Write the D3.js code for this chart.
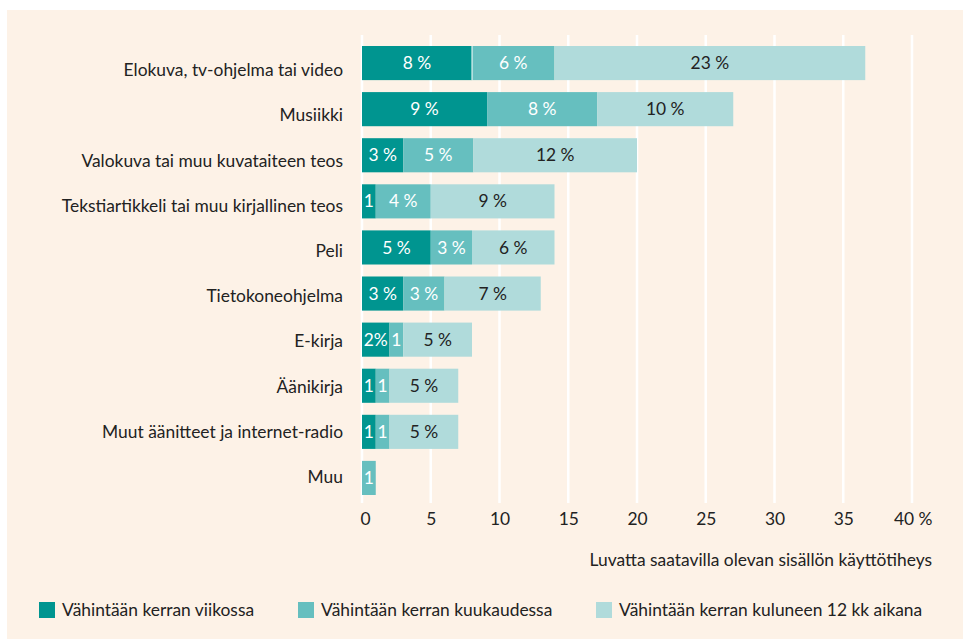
<!DOCTYPE html>
<html><head><meta charset="utf-8">
<script src="https://cdn.jsdelivr.net/npm/d3@7"></script>
<style>
html,body{margin:0;padding:0;background:#fff;}
svg{display:block;}
text{font-family:Lato,"Open Sans",sans-serif;}
</style></head>
<body>
<svg id="chart" width="963" height="639"></svg>
<script>
const categories = ["Elokuva, tv-ohjelma tai video","Musiikki","Valokuva tai muu kuvataiteen teos","Tekstiartikkeli tai muu kirjallinen teos","Peli","Tietokoneohjelma","E-kirja","Äänikirja","Muut äänitteet ja internet-radio","Muu"];
const weekly  = [8, 9.1, 3, 1, 5, 3, 2, 1, 1, 0];
const monthly = [6, 8, 5.1, 4, 3, 3, 1, 1, 1, 1];
const yearly  = [22.6, 9.9, 11.9, 9, 6, 7, 5, 5, 5, 0];
const weeklyLabels  = ["8 %","9 %","3 %","1","5 %","3 %","2%","1","1",""];
const monthlyLabels = ["6 %","8 %","5 %","4 %","3 %","3 %","1","1","1","1"];
const yearlyLabels  = ["23 %","10 %","12 %","9 %","6 %","7 %","5 %","5 %","5 %",""];
const seriesNames = ["Vähintään kerran viikossa","Vähintään kerran kuukaudessa","Vähintään kerran kuluneen 12 kk aikana"];
const tickValues = [0,5,10,15,20,25,30,35,40];
const tickLabels = ["0","5","10","15","20","25","30","35","40 %"];
const axisTitle = "Luvatta saatavilla olevan sisällön käyttötiheys";

const colors = ["#009590","#66bfbf","#b0dbdb"];
const textColors = ["#ffffff","#ffffff","#222222"];
const FS = 17.4;
const svg = d3.select("#chart");
svg.append("rect").attr("x",7).attr("y",10).attr("width",956).attr("height",629).attr("fill","#fdf2e7");

const x = d3.scaleLinear().domain([0,40]).range([362,912]);
const y = d3.scaleBand().domain(categories).range([46,495]).paddingInner(0.26).paddingOuter(0);
const yLab = d3.scalePoint().domain(categories).range([70,477]);

// grid
svg.append("g").selectAll("line").data(tickValues).join("line")
  .attr("x1",d=>x(d)).attr("x2",d=>x(d)).attr("y1",35).attr("y2",503)
  .attr("stroke","#ffffff").attr("stroke-width",2.5);

const data = categories.map((c,i)=>({cat:c, vals:[weekly[i],monthly[i],yearly[i]], labels:[weeklyLabels[i],monthlyLabels[i],yearlyLabels[i]]}));
const segs = [];
data.forEach(d=>{ let acc=0; d.vals.forEach((v,k)=>{ segs.push({cat:d.cat,k,x0:acc,x1:acc+v,label:d.labels[k]}); acc+=v; }); });

svg.append("g").selectAll("rect").data(segs.filter(s=>s.x1>s.x0)).join("rect")
  .attr("x",s=>x(s.x0)).attr("width",s=>x(s.x1)-x(s.x0))
  .attr("y",s=>y(s.cat)).attr("height",y.bandwidth())
  .attr("fill",s=>colors[s.k]);
// thin white separator in first row
svg.append("line").attr("x1",x(weekly[0])).attr("x2",x(weekly[0]))
  .attr("y1",y(categories[0])).attr("y2",y(categories[0])+y.bandwidth())
  .attr("stroke","#fff").attr("stroke-width",1);

svg.append("g").selectAll("text").data(segs.filter(s=>s.label)).join("text")
  .attr("x",s=>(x(s.x0)+x(s.x1))/2).attr("y",s=>y(s.cat)+y.bandwidth()/2)
  .attr("dy","0.35em").attr("text-anchor","middle")
  .attr("font-size",FS).attr("fill",s=>textColors[s.k]).text(s=>s.label);

// category labels
svg.append("g").selectAll("text").data(categories).join("text")
  .attr("x",343).attr("y",d=>yLab(d)).attr("dy","0.35em")
  .attr("text-anchor","end").attr("font-size",FS).attr("fill","#222").text(d=>d);

// axis
const axis = d3.axisBottom(x).tickValues(tickValues).tickFormat((d,i)=>tickLabels[i]).tickSize(0).tickPadding(0);
const ag = svg.append("g").attr("transform","translate(0,513)").call(axis);
ag.select(".domain").remove();
ag.selectAll("text").attr("font-size",FS).attr("fill","#222").attr("font-family","Lato,sans-serif");
ag.selectAll(".tick text").attr("text-anchor",(d,i)=> i===tickValues.length-1 ? "end" : "middle")
  .attr("dx",(d,i)=> i===tickValues.length-1 ? "20" : (i===0?"3":"0"));

svg.append("text").attr("x",932).attr("y",566).attr("text-anchor","end")
  .attr("font-size",FS).attr("fill","#222").text(axisTitle);

// legend
const legX = [39, 298, 596];
const lg = svg.append("g").selectAll("g").data(seriesNames).join("g")
  .attr("transform",(d,i)=>`translate(${legX[i]},602)`);
lg.append("rect").attr("width",16).attr("height",16).attr("fill",(d,i)=>colors[i]);
lg.append("text").attr("x",23).attr("y",8).attr("dy","0.35em").attr("font-size",FS).attr("fill","#222").text(d=>d);
</script>
</body></html>
